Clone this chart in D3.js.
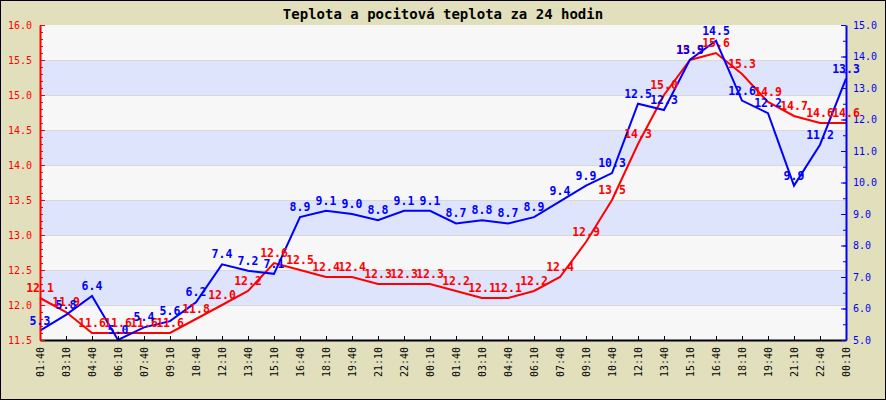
<!DOCTYPE html>
<html>
<head>
<meta charset="utf-8">
<script src="https://cdn.jsdelivr.net/npm/d3@7/dist/d3.min.js"></script>
<style>
  body { margin: 0; background: #fff; }
  svg text { font-family: "DejaVu Sans Mono", monospace; }
</style>
</head>
<body>
<div id="chart"></div>
<script>
// Teplota (left axis, red) and pocitova teplota (right axis, blue), every 1.5 h
const times = ["01:40","03:10","04:40","06:10","07:40","09:10","10:40","12:10","13:40","15:10",
  "16:40","18:10","19:40","21:10","22:40","00:10","01:40","03:10","04:40","06:10",
  "07:40","09:10","10:40","12:10","13:40","15:10","16:40","18:10","19:40","21:10","22:40","00:10"];

const teplota = [12.1, 11.9, 11.6, 11.6, 11.6, 11.6, 11.8, 12.0, 12.2, 12.6,
  12.5, 12.4, 12.4, 12.3, 12.3, 12.3, 12.2, 12.1, 12.1, 12.2,
  12.4, 12.9, 13.5, 14.3, 15.0, 15.5, 15.6, 15.3, 14.9, 14.7, 14.6, 14.6];

const pocitova = [5.3, 5.8, 6.4, 5.0, 5.4, 5.6, 6.2, 7.4, 7.2, 7.1,
  8.9, 9.1, 9.0, 8.8, 9.1, 9.1, 8.7, 8.8, 8.7, 8.9,
  9.4, 9.9, 10.3, 12.5, 12.3, 13.9, 14.5, 12.6, 12.2, 9.9, 11.2, 13.3];

const leftTicks = [11.5, 12.0, 12.5, 13.0, 13.5, 14.0, 14.5, 15.0, 15.5, 16.0];
const rightTicks = [5, 6, 7, 8, 9, 10, 11, 12, 13, 14, 15];

const title = "Teplota a pocitová teplota za 24 hodin";

// Layout
const W = 886, H = 400;
const plot = { left: 40, right: 846, top: 25, bottom: 340 };

const svg = d3.select("#chart").append("svg")
  .attr("width", W)
  .attr("height", H);

// outer frame
svg.append("rect")
  .attr("x", 0.5).attr("y", 0.5)
  .attr("width", W - 1).attr("height", H - 1)
  .attr("fill", "#e2e0bc")
  .attr("stroke", "#000");

// Scales
const x = d3.scaleLinear().domain([0, times.length - 1]).range([plot.left, plot.right]);
const yL = d3.scaleLinear().domain([11.5, 16.0]).range([plot.bottom, plot.top]);
const yR = d3.scaleLinear().domain([5, 15]).range([plot.bottom, plot.top]);

// plot background with alternating bands
svg.append("rect")
  .attr("x", plot.left).attr("y", plot.top)
  .attr("width", plot.right - plot.left).attr("height", plot.bottom - plot.top)
  .attr("fill", "#f7f7f7");

svg.selectAll(".band")
  .data(leftTicks.slice(0, -1).filter((d, i) => i % 2 === 1))
  .enter().append("rect")
  .attr("class", "band")
  .attr("x", plot.left)
  .attr("y", d => yL(d + 0.5))
  .attr("width", plot.right - plot.left)
  .attr("height", d => yL(d) - yL(d + 0.5))
  .attr("fill", "#dde4fc");

svg.selectAll(".grid")
  .data(leftTicks.slice(1, -1))
  .enter().append("line")
  .attr("class", "grid")
  .attr("x1", plot.left).attr("x2", plot.right)
  .attr("y1", d => Math.round(yL(d)) + 0.5)
  .attr("y2", d => Math.round(yL(d)) + 0.5)
  .attr("stroke", "#d8d8d8");

// Title
svg.append("text")
  .attr("x", 443)
  .attr("y", 19)
  .attr("text-anchor", "middle")
  .style("font-size", "14px")
  .style("font-weight", "bold")
  .text(title);

// Lines
const lineL = d3.line().x((d, i) => x(i)).y(d => yL(d));
const lineR = d3.line().x((d, i) => x(i)).y(d => yR(d));

svg.append("path")
  .datum(teplota)
  .attr("d", lineL)
  .attr("fill", "none")
  .attr("stroke", "#ff0000")
  .attr("stroke-width", 2);

svg.append("path")
  .datum(pocitova)
  .attr("d", lineR)
  .attr("fill", "none")
  .attr("stroke", "#0000ff")
  .attr("stroke-width", 2);

// X axis
const xAxis = svg.append("g")
  .attr("transform", `translate(0,${plot.bottom})`)
  .call(d3.axisBottom(x)
    .tickValues(d3.range(times.length))
    .tickFormat(i => times[i])
    .tickSize(-4)
    .tickSizeOuter(0));
xAxis.select(".domain").attr("stroke", "#000").attr("stroke-width", 2);
xAxis.selectAll(".tick line").attr("stroke", "#000");
xAxis.selectAll("text")
  .attr("transform", "rotate(-90)")
  .attr("x", -7)
  .attr("y", 0)
  .attr("dy", "0.35em")
  .attr("text-anchor", "end")
  .attr("fill", "#000")
  .style("font-size", "10px");

// Left axis (red)
const minorL = d3.range(115, 161).map(d => d / 10);
svg.append("g")
  .attr("transform", `translate(${plot.left},0)`)
  .call(d3.axisLeft(yL).tickValues(minorL).tickSize(-3).tickFormat(""))
  .call(g => g.select(".domain").remove())
  .selectAll("line").attr("stroke", "#ff0000");

const leftAxis = svg.append("g")
  .attr("transform", `translate(${plot.left},0)`)
  .call(d3.axisLeft(yL)
    .tickValues(leftTicks)
    .tickFormat(d3.format(".1f"))
    .tickSize(-5)
    .tickSizeOuter(0)
    .tickPadding(8));
leftAxis.select(".domain").attr("stroke", "#ff0000").attr("stroke-width", 2);
leftAxis.selectAll(".tick line").attr("stroke", "#ff0000");
leftAxis.selectAll("text").attr("fill", "#ff0000").style("font-size", "10px");

// Right axis (blue)
const minorR = d3.range(10, 31).map(d => d / 2);
svg.append("g")
  .attr("transform", `translate(${plot.right},0)`)
  .call(d3.axisRight(yR).tickValues(minorR).tickSize(-3).tickFormat(""))
  .call(g => g.select(".domain").remove())
  .selectAll("line").attr("stroke", "#0000ff");

const rightAxis = svg.append("g")
  .attr("transform", `translate(${plot.right},0)`)
  .call(d3.axisRight(yR)
    .tickValues(rightTicks)
    .tickFormat(d3.format(".1f"))
    .tickSize(-5)
    .tickSizeOuter(0)
    .tickPadding(7));
rightAxis.select(".domain").attr("stroke", "#0000ff").attr("stroke-width", 2);
rightAxis.selectAll(".tick line").attr("stroke", "#0000ff");
rightAxis.selectAll("text").attr("fill", "#0000ff").style("font-size", "10px");

// Value labels
svg.selectAll(".lblL")
  .data(teplota)
  .enter().append("text")
  .attr("class", "lblL")
  .attr("x", (d, i) => x(i))
  .attr("y", d => yL(d) - 6)
  .attr("text-anchor", "middle")
  .attr("fill", "#ff0000")
  .style("font-size", "11.5px")
  .style("font-weight", "bold")
  .text(d => d.toFixed(1));

svg.selectAll(".lblR")
  .data(pocitova)
  .enter().append("text")
  .attr("class", "lblR")
  .attr("x", (d, i) => x(i))
  .attr("y", d => yR(d) - 6)
  .attr("text-anchor", "middle")
  .attr("fill", "#0000ff")
  .style("font-size", "11.5px")
  .style("font-weight", "bold")
  .text(d => d.toFixed(1));
</script>
</body>
</html>
